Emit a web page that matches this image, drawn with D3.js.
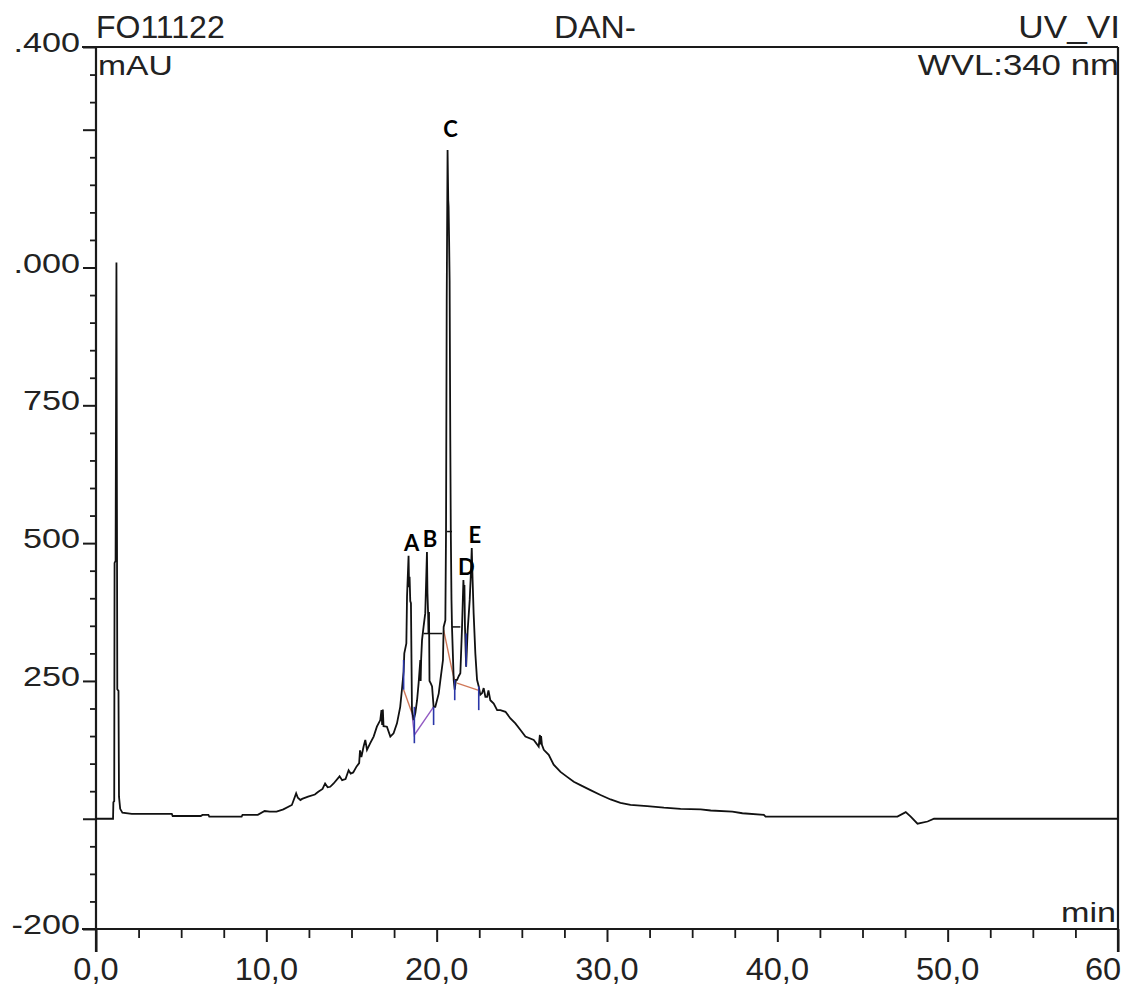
<!DOCTYPE html>
<html><head><meta charset="utf-8">
<script src="https://cdn.jsdelivr.net/npm/d3@7"></script>
<style>
html,body{margin:0;padding:0;background:#fff;}
svg{display:block;}
</style></head>
<body>
<svg id="chart" width="1127" height="986"></svg>
<script>
// ---------------- DATA ----------------
const headerLeft = "FO11122";
const headerMid = "DAN-";
const headerRight = "UV_VI";
const unitLabel = "mAU";
const wavelengthLabel = "WVL:340 nm";
const timeUnit = "min";

const xMajorTicks = [0, 10, 20, 30, 40, 50, 60];
const xTickLabels = ["0,0", "10,0", "20,0", "30,0", "40,0", "50,0", "60"];
const yMajorTicks = [-200, 0, 250, 500, 750, 1000, 1250, 1400];
const yLabelValues = [1400, 1000, 750, 500, 250, -200];
const yTickLabels = [".400", ".000", "750", "500", "250", "-200"];

// retention time (min), absorbance (mAU)
const tracePoints = [
 [0,0],[1.00,0],[1.02,30],[1.07,32],[1.09,464],[1.15,468],[1.20,1009],[1.25,235],[1.32,232],[1.35,40],
 [1.42,18],[1.55,11],[2.1,9],[4.45,9],[4.5,5],[6.15,5],[6.25,7],[6.6,7],[6.65,4],[8.55,4],[8.6,7],[9.5,7],
 [9.9,14],[10.2,13],[10.6,13],[11.0,17],[11.5,25],[11.75,46],[11.85,38],[12.0,34],[12.1,36],[12.45,40],
 [12.85,44],[13.05,49],[13.3,54],[13.45,64],[13.6,57],[13.75,58],[13.95,64],[14.3,77],[14.45,70],[14.65,72],
 [14.83,88],[14.95,82],[15.1,84],[15.3,95],[15.45,101],[15.5,124],[15.58,112],[15.71,131],[15.81,143],
 [15.91,125],[16.1,137],[16.3,149],[16.49,167],[16.69,179],[16.76,197],[16.80,170],[16.84,198],[16.88,168],
 [17.08,167],[17.28,149],[17.47,155],[17.67,173],[17.86,203],[17.96,234],[18.06,267],[18.10,300],[18.22,318],
 [18.26,403],[18.35,477],[18.38,420],[18.41,439],[18.45,395],[18.49,391],[18.55,197],[18.65,179],[18.75,192],
 [18.85,215],[18.94,246],[19.04,288],[19.06,250],[19.09,290],[19.14,324],[19.23,348],[19.33,373],[19.43,484],
 [19.46,409],[19.50,370],[19.52,336],[19.55,375],[19.58,250],[19.66,245],[19.73,240],[19.82,203],[19.92,203],
 [20.12,227],[20.22,252],[20.37,288],[20.41,348],[20.51,360],[20.55,524],[20.59,941],[20.64,1213],[20.68,1122],
 [20.70,1110],[20.73,1050],[20.76,977],[20.80,687],[20.83,520],[20.87,397],[20.90,348],[21.00,252],[21.06,234],
 [21.13,252],[21.20,252],[21.30,259],[21.39,264],[21.49,348],[21.57,433],[21.60,410],[21.63,424],[21.66,350],
 [21.73,276],[21.82,342],[21.94,397],[22.01,446],[22.06,491],[22.11,433],[22.17,373],[22.27,300],[22.37,252],
 [22.47,240],[22.56,225],[22.67,228],[22.76,237],[22.86,221],[22.96,221],[23.04,233],[23.15,215],[23.35,209],
 [23.55,197],[23.74,197],[24.04,194],[24.33,182],[24.62,173],[24.92,161],[25.21,149],[25.70,143],[25.99,131],
 [26.06,152],[26.10,135],[26.13,150],[26.18,134],[26.29,125],[26.58,116],[26.87,98],[27.27,85],[27.66,76],
 [28.05,67],[28.44,61],[29.03,52],[29.62,43],[30.21,35],[30.79,29],[31.38,25],[32.36,23],[33.34,20],[34.32,18],
 [35.50,17],[36.09,15],[37.36,13],[37.95,10],[39.21,7],[39.31,4],[47.05,4],[47.54,12],[47.83,4],[48.23,-9],
 [48.82,-5],[49.20,0],[60,0]
];

const peakNames = ["A", "B", "C", "D", "E"];
const peakTimes = [18.35, 19.43, 20.64, 21.57, 22.06];
const peakHeights = [477, 484, 1213, 433, 491];

// integration baselines drawn by the data system
const integrationBaselines = [
 [[18.06,234],[18.55,192]],
 [[18.55,192],[18.69,152],[19.82,203]],
 [[20.41,342],[20.90,270],[21.06,250]],
 [[21.20,246],[22.47,233]]
];
const delimiterTimes = [18.06, 18.69, 19.82, 21.06, 21.73, 22.47];
const delimiterLow = [234, 137, 170, 215, 276, 197];
const delimiterHigh = [288, 203, 203, 252, 336, 240];
const levelMarkStart = [19.23, 20.90, 20.61];
const levelMarkEnd = [20.33, 21.39, 20.90];
const levelMarkValue = [336, 348, 521];

// ---------------- DRAW ----------------
const svg = d3.select("#chart");
svg.append("rect").attr("width",1127).attr("height",986).attr("fill","#fff");

const x = d3.scaleLinear().domain([0, 60]).range([96, 1118]);
const y = d3.scaleLinear().domain([-200, 1400]).range([929, 47]);

const FONT = "'Liberation Sans', Arial, sans-serif";
const AX = "#1a1a1a";

function stretch(sel, f) {
  sel.each(function() {
    const w = this.getComputedTextLength();
    d3.select(this).attr("textLength", w * f).attr("lengthAdjust", "spacingAndGlyphs");
  });
}

// y minor ticks
const yMinor = d3.range(-150, 1400, 50).filter(v => yMajorTicks.indexOf(v) < 0);
svg.append("g").attr("transform", `translate(${x(0)},0)`)
  .call(d3.axisLeft(y).tickValues(yMinor).tickSize(6).tickFormat(""))
  .call(g => g.select(".domain").remove())
  .selectAll("line").attr("stroke", AX).attr("stroke-width", 1.8);

// y major ticks
svg.append("g").attr("transform", `translate(${x(0)},0)`)
  .call(d3.axisLeft(y).tickValues(yMajorTicks).tickSize(13).tickFormat(""))
  .call(g => g.select(".domain").remove())
  .selectAll("line").attr("stroke", AX).attr("stroke-width", 2);

// y labels
const yl = svg.append("g").selectAll("text").data(yLabelValues).join("text")
  .attr("x", 80).attr("y", d => y(d) + 5)
  .attr("text-anchor", "end")
  .attr("font-family", FONT).attr("font-size", 28).attr("fill", "#222")
  .text((d, i) => yTickLabels[i]);
stretch(yl, 1.22);

// x minor ticks
const xMinor = d3.range(2.5, 60, 2.5).filter(v => v % 10 !== 0);
svg.append("g").attr("transform", `translate(0,${y(-200)})`)
  .call(d3.axisBottom(x).tickValues(xMinor).tickSize(9).tickFormat(""))
  .call(g => g.select(".domain").remove())
  .selectAll("line").attr("stroke", AX).attr("stroke-width", 1.8);
svg.append("g").attr("transform", `translate(0,${y(-200)})`)
  .call(d3.axisBottom(x).tickValues(xMajorTicks).tickSize(13).tickFormat(""))
  .call(g => g.select(".domain").remove())
  .selectAll("line").attr("stroke", AX).attr("stroke-width", 2)
  .attr("y2", d => (d === 0 || d === 60) ? 23 : 13);

const xl = svg.append("g").selectAll("text").data(xMajorTicks).join("text")
  .attr("x", d => x(d)).attr("y", 980)
  .attr("text-anchor", "middle")
  .attr("font-family", FONT).attr("font-size", 31).attr("fill", "#222")
  .text((d, i) => xTickLabels[i]);
stretch(xl, 1.05);
xl.filter(d => d === 60).attr("text-anchor", "start").attr("x", x(60) - 33);

// frame
const frame = svg.append("g").attr("stroke", AX).attr("stroke-width", 2.2).attr("fill", "none");
frame.append("line").attr("x1", x(0) - 14).attr("x2", x(60)).attr("y1", y(1400)).attr("y2", y(1400));
frame.append("line").attr("x1", x(0) - 14).attr("x2", x(60)).attr("y1", y(-200)).attr("y2", y(-200));
frame.append("line").attr("x1", x(0)).attr("x2", x(0)).attr("y1", y(1400)).attr("y2", y(-200) + 23);
frame.append("line").attr("x1", x(60)).attr("x2", x(60)).attr("y1", y(1400)).attr("y2", y(-200) + 23);

// header texts
const t1 = svg.append("text").attr("x", 96).attr("y", 38).attr("font-family", FONT)
  .attr("font-size", 32).attr("fill", "#222").text(headerLeft);
stretch(t1, 1.0);
const t2 = svg.append("text").attr("x", 595).attr("y", 38).attr("text-anchor", "middle").attr("font-family", FONT)
  .attr("font-size", 32).attr("fill", "#222").text(headerMid);
stretch(t2, 1.05);
const t3 = svg.append("text").attr("x", 1120).attr("y", 38).attr("text-anchor", "end").attr("font-family", FONT)
  .attr("font-size", 32).attr("fill", "#222").text(headerRight);
stretch(t3, 1.1);
const t4 = svg.append("text").attr("x", 98).attr("y", 75).attr("font-family", FONT)
  .attr("font-size", 28).attr("fill", "#222").text(unitLabel);
stretch(t4, 1.2);
const t5 = svg.append("text").attr("x", 1119).attr("y", 75).attr("text-anchor", "end").attr("font-family", FONT)
  .attr("font-size", 29).attr("fill", "#222").text(wavelengthLabel);
stretch(t5, 1.2);
const t6 = svg.append("text").attr("x", 1116).attr("y", 922).attr("text-anchor", "end").attr("font-family", FONT)
  .attr("font-size", 28).attr("fill", "#222").text(timeUnit);
stretch(t6, 1.22);

// integration baselines
const lineGen = d3.line().x(d => x(d[0])).y(d => y(d[1]));
const baselineColors = ["#c8603c", "#8040b8", "#c8603c", "#c8603c"];
svg.append("g").selectAll("path").data(integrationBaselines).join("path")
  .attr("d", lineGen).attr("fill", "none")
  .attr("stroke", (d, i) => baselineColors[i]).attr("stroke-width", 1.4).attr("opacity", 0.85);

// main trace
svg.append("path").datum(tracePoints)
  .attr("d", lineGen).attr("fill", "none")
  .attr("stroke", "#111").attr("stroke-width", 1.8).attr("stroke-linejoin", "miter");

// peak delimiters
svg.append("g").selectAll("line").data(delimiterTimes).join("line")
  .attr("x1", d => x(d)).attr("x2", d => x(d))
  .attr("y1", (d, i) => y(delimiterLow[i])).attr("y2", (d, i) => y(delimiterHigh[i]))
  .attr("stroke", "#2a36a8").attr("stroke-width", 1.6);
svg.append("g").selectAll("line").data(levelMarkValue).join("line")
  .attr("x1", (d, i) => x(levelMarkStart[i])).attr("x2", (d, i) => x(levelMarkEnd[i]))
  .attr("y1", d => y(d)).attr("y2", d => y(d))
  .attr("stroke", "#111").attr("stroke-width", 1.5);

// peak names
svg.append("g").selectAll("text").data(peakNames).join("text")
  .attr("x", (d, i) => x(peakTimes[i]) + 3)
  .attr("y", (d, i) => y(peakHeights[i]) - (d === "C" ? 13 : 5))
  .attr("text-anchor", "middle")
  .attr("font-family", "Lato, 'Open Sans', sans-serif").attr("font-weight", "bold")
  .attr("font-size", 22).attr("fill", "#000")
  .text(d => d);
</script>
</body></html>
